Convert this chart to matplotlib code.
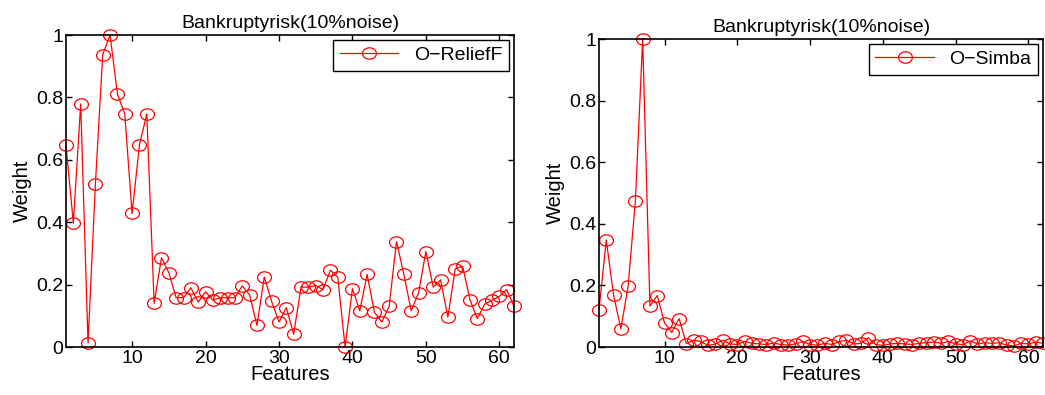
import numpy as np
import matplotlib.pyplot as plt
from matplotlib.path import Path
from matplotlib.transforms import Affine2D

plt.rcParams['font.family'] = ['Liberation Sans', 'DejaVu Sans']

features = np.arange(1, 63)

# O-ReliefF weights (left panel)
relieff = [0.646, 0.397, 0.779, 0.013, 0.521, 0.937, 1.000, 0.811, 0.747, 0.428,
           0.648, 0.747, 0.140, 0.286, 0.238, 0.158, 0.158, 0.190, 0.144, 0.177,
           0.150, 0.158, 0.158, 0.158, 0.196, 0.167, 0.069, 0.224, 0.146, 0.080,
           0.126, 0.041, 0.192, 0.192, 0.197, 0.184, 0.246, 0.224, 0.000, 0.187,
           0.116, 0.233, 0.111, 0.080, 0.130, 0.338, 0.233, 0.116, 0.173, 0.306,
           0.192, 0.215, 0.096, 0.251, 0.259, 0.152, 0.091, 0.137, 0.150, 0.162,
           0.184, 0.130]

# O-Simba weights (right panel)
simba = [0.121, 0.347, 0.169, 0.059, 0.197, 0.475, 1.000, 0.133, 0.167, 0.078,
         0.047, 0.092, 0.011, 0.022, 0.018, 0.005, 0.010, 0.022, 0.010, 0.008,
         0.018, 0.012, 0.010, 0.008, 0.013, 0.008, 0.006, 0.010, 0.018, 0.008,
         0.006, 0.012, 0.008, 0.018, 0.022, 0.010, 0.012, 0.030, 0.008, 0.005,
         0.010, 0.012, 0.010, 0.008, 0.012, 0.014, 0.016, 0.012, 0.018, 0.010,
         0.008, 0.020, 0.010, 0.014, 0.012, 0.014, 0.006, 0.004, 0.012, 0.010,
         0.016, 0.012]

title = 'Bankruptyrisk(10%noise)'
labels = ['O\u2212ReliefF', 'O\u2212Simba']

# slightly flattened circle, like the stretched matlab export
circ = Path.unit_circle()
ellipse = Path(Affine2D().scale(1.0, 0.82).transform(circ.vertices), circ.codes)

fig = plt.figure(figsize=(10.45, 3.95), dpi=100)
W, H = 1045, 395
ax1 = fig.add_axes([66 / W, (H - 347) / H, 448 / W, 312 / H])
ax2 = fig.add_axes([599 / W, (H - 347) / H, 444 / W, 308 / H])

for ax, vals, lab in [(ax1, relieff, labels[0]), (ax2, simba, labels[1])]:
    ax.plot(features, vals, '-', marker=ellipse, color='red', lw=0.9, ms=10,
            mfc='none', mec='red', mew=0.9, label=lab, clip_on=False)
    ax.set_xlim(1, 62)
    ax.set_ylim(0, 1)
    ax.set_xticks([10, 20, 30, 40, 50, 60])
    ax.set_yticks([0, 0.2, 0.4, 0.6, 0.8, 1])
    ax.set_yticklabels(['0', '0.2', '0.4', '0.6', '0.8', '1'])
    ax.tick_params(direction='in', top=True, right=True, labelsize=14,
                   length=4, width=1, pad=2)
    for s in ax.spines.values():
        s.set_linewidth(1.2)
    ax.set_title(title, fontsize=14, pad=5)
    ax.set_xlabel('Features', fontsize=14.5, labelpad=-1)
    ax.set_ylabel('Weight', fontsize=14.5, labelpad=3)
    leg = ax.legend(loc='upper right', fontsize=14, fancybox=False,
                    edgecolor='black', framealpha=1, handlelength=3.0,
                    borderaxespad=0.25, borderpad=0.35)
    leg.get_frame().set_linewidth(1.0)

fig.savefig('out.png', dpi=100)
